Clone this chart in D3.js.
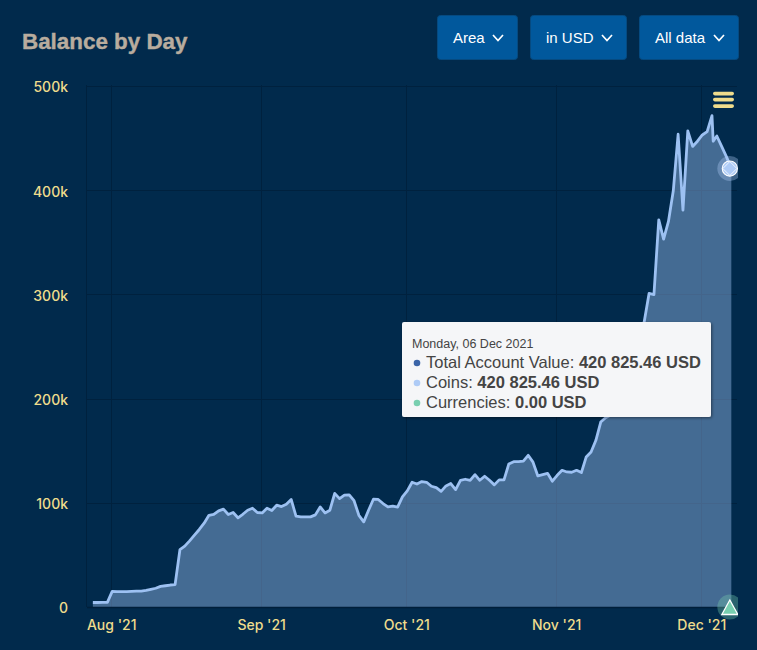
<!DOCTYPE html>
<html>
  <head>
    <meta charset="utf-8">
    <script src="https://d3js.org/d3.v7.min.js"></script>
    <style>
      html, body { margin: 0; padding: 0; background: #012a4c; overflow: hidden; }
      svg { display: block; }
    </style>
  </head>
  <body>
    <div id="dataviz"></div>
    <script>
      // balance in thousands of USD, one reading per day from the start date
      const startDate = Date.UTC(2021, 6, 28, 5);
      const balances = [
        4.3, 4.3, 4.4, 4.5, 15, 14.8, 14.8, 14.8, 15, 15.2,
        15.3, 16, 17, 18, 19.8, 20.4, 21.1, 21.5, 55, 58.4,
        63.5, 69, 74.4, 80.4, 88, 88.8, 92.3, 93.9, 88.8, 90.7,
        85.6, 89, 92.9, 94.8, 90.7, 90.3, 94.8, 92.6, 97.7, 96.4,
        98.7, 103.2, 87.2, 86.5, 86.5, 86.5, 88.4, 96, 90.3, 92.9,
        109, 104, 107.3, 107.6, 102, 88, 81.7, 92.9, 103.4, 103.2,
        99.3, 96, 96.7, 95.8, 105.7, 111.4, 119.7, 118, 120.4, 119.7,
        115.9, 114.6, 111, 116.2, 118.5, 112.7, 121.6, 122.6, 121.6, 127,
        121.6, 125.5, 121.6, 117.2, 122, 122, 137.3, 139.5, 139.5, 140,
        145.6, 139, 125.8, 127, 128.3, 120.7, 126.4, 131.2, 129.6, 129.3,
        131.2, 129, 144, 148.8, 160, 177.5, 181.7, 184, 187, 195,
        205, 225, 245, 262, 274, 301, 299.8, 371.6, 353, 370,
        399.4, 453.7, 380.9, 457, 442, 447, 453, 456.2, 471.6, 447,
        452, 442, 432, 420.8
      ];
      // the sharp drop after the peak is a second reading on the same day
      const dayOffsets = d3.range(0, 129).concat([128.25, 129, 130, 131, 132]);

      const xTickDates = [Date.UTC(2021, 7, 1), Date.UTC(2021, 8, 1), Date.UTC(2021, 9, 1), Date.UTC(2021, 10, 1), Date.UTC(2021, 11, 1)];
      const xTickLabels = ["Aug '21", "Sep '21", "Oct '21", "Nov '21", "Dec '21"];
      const yTicks = [0, 100, 200, 300, 400, 500];

      const buttonLabels = ["Area", "in USD", "All data"];
      const tooltipDate = "Monday, 06 Dec 2021";
      const tooltipNames = ["Total Account Value", "Coins", "Currencies"];
      const tooltipValues = ["420 825.46 USD", "420 825.46 USD", "0.00 USD"];
      const tooltipColors = ["#3b65a8", "#aecbf6", "#78cfb0"];

      var width = 757, height = 650;
      var plot = {left: 87, right: 737, top: 85, bottom: 607};

      var svg = d3.select("#dataviz")
        .append("svg")
          .attr("width", width)
          .attr("height", height);

      var x = d3.scaleUtc()
        .domain([xTickDates[0], xTickDates[4]])
        .range([111.2, 701.3]);

      var y = d3.scaleLinear()
        .domain([0, 500])
        .range([plot.bottom, 86]);

      var rows = balances.map((v, i) => {
        return {date: startDate + dayOffsets[i] * 864e5, value: v};
      });
      var last = rows[rows.length - 1];

      // grid
      var grid = svg.append("g").attr("stroke", "#00213e").attr("stroke-width", 1);
      grid.selectAll(".h").data(yTicks).enter().append("line")
        .attr("x1", plot.left).attr("x2", plot.right)
        .attr("y1", d => Math.round(y(d)) + 0.5).attr("y2", d => Math.round(y(d)) + 0.5);
      grid.selectAll(".v").data(xTickDates).enter().append("line")
        .attr("x1", d => Math.round(x(d)) + 0.5).attr("x2", d => Math.round(x(d)) + 0.5)
        .attr("y1", plot.top).attr("y2", plot.bottom);
      grid.append("line")
        .attr("x1", plot.left - 0.5).attr("x2", plot.left - 0.5)
        .attr("y1", plot.top).attr("y2", plot.bottom);

      // area and line
      svg.append("path")
        .datum(rows)
        .attr("fill", "#aaccff")
        .attr("fill-opacity", 0.4)
        .attr("d", d3.area()
          .x(d => x(d.date))
          .y0(y(0))
          .y1(d => y(d.value)));

      svg.append("path")
        .datum(rows)
        .attr("fill", "none")
        .attr("stroke", "#9dc1f2")
        .attr("stroke-width", 2.8)
        .attr("stroke-linejoin", "round")
        .attr("d", d3.line()
          .x(d => x(d.date))
          .y(d => y(d.value)));

      svg.append("line")
        .attr("x1", plot.left).attr("x2", plot.right)
        .attr("y1", plot.bottom + 0.5).attr("y2", plot.bottom + 0.5)
        .attr("stroke", "#001f3a").attr("stroke-width", 1.5);

      // axes
      var xAxis = svg.append("g")
        .attr("transform", "translate(0," + plot.bottom + ")")
        .call(d3.axisBottom(x).tickValues(xTickDates).tickSize(0).tickPadding(13)
          .tickFormat((d, i) => xTickLabels[i]));
      var yAxis = svg.append("g")
        .attr("transform", "translate(" + plot.left + ",0)")
        .call(d3.axisLeft(y).tickValues(yTicks).tickSize(0).tickPadding(19)
          .tickFormat(d => d === 0 ? "0" : d + "k"));
      xAxis.select(".domain").remove();
      yAxis.select(".domain").remove();
      svg.selectAll(".tick text")
        .attr("fill", "#efdc8c")
        .style("font-family", "Inter")
        .style("font-size", "14px")
        .style("font-weight", 500);
      yAxis.selectAll(".tick text").attr("dy", "0.42em");

      // title
      svg.append("text")
        .attr("x", 22).attr("y", 49)
        .attr("fill", "#b8ac9e")
        .attr("stroke", "#b8ac9e")
        .attr("stroke-width", 0.4)
        .style("font-family", "Liberation Sans")
        .style("font-size", "22.4px")
        .style("font-weight", 700)
        .text("Balance by Day");

      // dropdown buttons
      var buttonBoxes = [[437, 81], [530, 97], [639, 100]];
      var buttons = svg.selectAll(".button").data(buttonLabels).enter().append("g")
        .attr("class", "button")
        .attr("transform", (d, i) => "translate(" + buttonBoxes[i][0] + ",15)");
      buttons.append("rect")
        .attr("x", 0.5).attr("y", 0.5).attr("rx", 3)
        .attr("width", (d, i) => buttonBoxes[i][1] - 1).attr("height", 44)
        .attr("fill", "#01589c")
        .attr("stroke", "#064a80");
      buttons.append("text")
        .attr("x", 16).attr("y", 28)
        .attr("fill", "#ffffff")
        .style("font-family", "Liberation Sans")
        .style("font-size", "15px")
        .text(d => d);
      buttons.append("path")
        .attr("d", (d, i) => {
          var cx = buttonBoxes[i][1] - 20;
          return "M" + (cx - 5) + ",20L" + cx + ",25.5L" + (cx + 5) + ",20";
        })
        .attr("fill", "none")
        .attr("stroke", "#ffffff")
        .attr("stroke-width", 1.7);

      // menu icon
      svg.selectAll(".menu").data([93.5, 99.5, 106]).enter().append("rect")
        .attr("x", 713).attr("y", d => d - 1.7)
        .attr("width", 21).attr("height", 3.6).attr("rx", 1.8)
        .attr("fill", "#efdc8c");

      // hover markers, halos are cut by the plot edge
      svg.append("clipPath").attr("id", "edge")
        .append("rect").attr("x", 0).attr("y", 0).attr("width", 738).attr("height", height);
      var markers = svg.append("g").attr("clip-path", "url(#edge)");
      var mx = x(last.date) - 1.5;
      markers.append("circle")
        .attr("cx", mx).attr("cy", y(last.value)).attr("r", 12.5)
        .attr("fill", "#aecbf6").attr("fill-opacity", 0.35);
      markers.append("circle")
        .attr("cx", mx).attr("cy", y(last.value)).attr("r", 7.6)
        .attr("fill", "#aecbf6").attr("stroke", "#ffffff").attr("stroke-width", 1.1);
      markers.append("path")
        .attr("transform", "translate(" + mx + "," + y(last.value) + ")")
        .attr("d", "M0,-7L7,0L0,7L-7,0Z")
        .attr("fill", "#aecbf6").attr("stroke", "#ffffff").attr("stroke-width", 0.8);
      markers.append("circle")
        .attr("cx", mx).attr("cy", y(0)).attr("r", 12.5)
        .attr("fill", "#78cfb0").attr("fill-opacity", 0.35);
      markers.append("path")
        .attr("transform", "translate(" + mx + "," + y(0) + ")")
        .attr("d", "M0,-7L8,7.5L-8,7.5Z")
        .attr("fill", "#78cfb0").attr("stroke", "#ffffff").attr("stroke-width", 1.3);

      // tooltip
      var defs = svg.append("defs");
      defs.append("filter").attr("id", "shadow")
        .attr("x", "-5%").attr("y", "-10%").attr("width", "110%").attr("height", "125%")
        .append("feDropShadow")
          .attr("dx", 1).attr("dy", 1).attr("stdDeviation", 1.5)
          .attr("flood-color", "#000").attr("flood-opacity", 0.45);

      var tip = svg.append("g").attr("transform", "translate(402,322)");
      tip.append("rect")
        .attr("width", 309).attr("height", 95).attr("rx", 2)
        .attr("fill", "#f5f6f8")
        .attr("filter", "url(#shadow)");
      tip.append("text")
        .attr("x", 10).attr("y", 26)
        .attr("fill", "#444")
        .style("font-family", "Liberation Sans")
        .style("font-size", "12.5px")
        .text(tooltipDate);
      tooltipNames.forEach((name, i) => {
        var rowY = 46 + i * 20;
        tip.append("circle")
          .attr("cx", 15).attr("cy", rowY - 5).attr("r", 3.3)
          .attr("fill", tooltipColors[i]);
        var t = tip.append("text")
          .attr("x", 24).attr("y", rowY)
          .attr("fill", "#444")
          .style("font-family", "Liberation Sans")
          .style("font-size", "16.5px");
        t.append("tspan").text(name + ": ");
        t.append("tspan").attr("font-weight", 700).text(tooltipValues[i]);
      });
    </script>
  </body>
</html>
